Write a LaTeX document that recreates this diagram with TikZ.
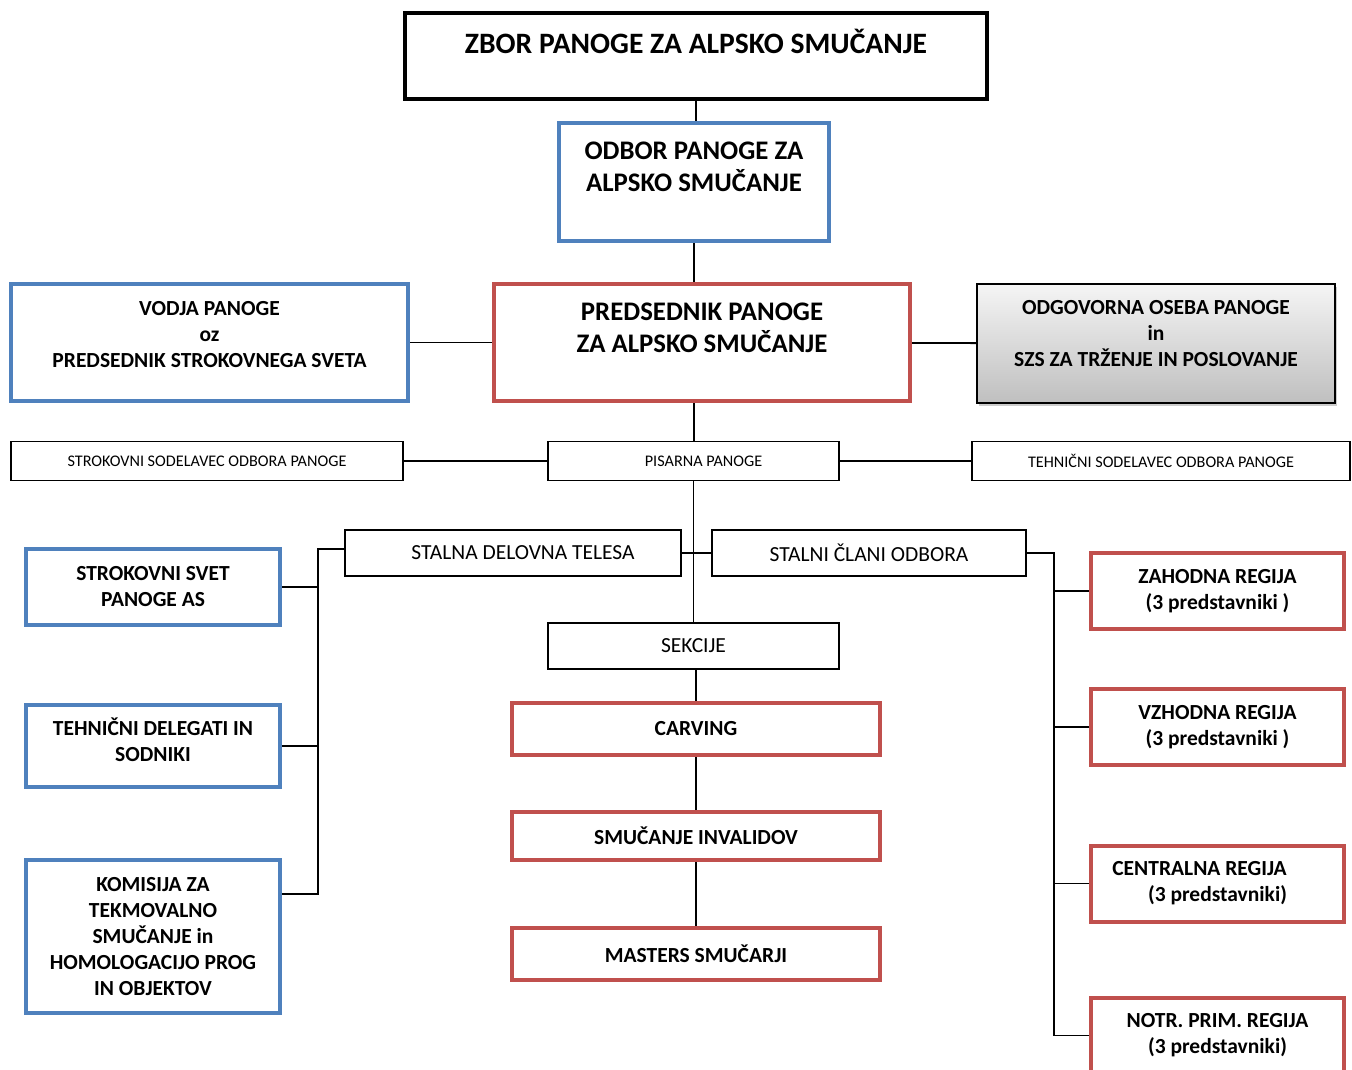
\documentclass[tikz,border=0pt]{standalone}
\usepackage{fontspec}
\setmainfont{Carlito}
\usepackage{tikz}
\usetikzlibrary{positioning,shadows}
\definecolor{boardblue}{HTML}{4F81BD}
\definecolor{sectionred}{HTML}{C0504D}
\newcommand{\zborfont}{\fontsize{29.6}{35}\selectfont\bfseries}
\newcommand{\headfont}{\fontsize{26.8}{32}\selectfont\bfseries}
\newcommand{\unitfont}{\fontsize{21.5}{26}\selectfont\bfseries}
\newcommand{\bodyfont}{\fontsize{21.5}{26}\selectfont}
\newcommand{\officefont}{\fontsize{16.2}{19}\selectfont}
\newcommand{\lowpad}[1]{\rule[-#1]{0pt}{#1}}
\tikzstyle{assembly}=[rectangle, draw=black, line width=4pt, align=center, font=\zborfont, minimum width=582pt, minimum height=86pt]
\tikzstyle{bluebox}=[rectangle, draw=boardblue, line width=4pt, align=center, font=\unitfont]
\tikzstyle{redbox}=[rectangle, draw=sectionred, line width=4pt, align=center, font=\unitfont]
\tikzstyle{thinbox}=[rectangle, draw=black, line width=1.6pt, align=center, font=\bodyfont]
\tikzstyle{office}=[thinbox, font=\officefont, minimum height=39pt]
\tikzstyle{greybox}=[rectangle, draw=black, line width=1.6pt, top color=gray!8, bottom color=gray!50, drop shadow={shadow xshift=2pt, shadow yshift=-3pt, opacity=0.4}, align=center, font=\unitfont]
\tikzset{link/.style={draw=black, line width=1.8pt}}
\tikzset{council/.style={minimum width=254pt}, region/.style={minimum width=253pt, minimum height=76pt}, sectionbox/.style={minimum width=368pt}}

\begin{document}
\begin{tikzpicture}[x=1pt, y=-1pt]
    \useasboundingbox (0,0) rectangle (1352,1069);

    \node(zbor)[assembly] at (696,56) {ZBOR PANOGE ZA ALPSKO SMUČANJE\lowpad{30pt}};
    \node(odbor)[bluebox, font=\headfont, minimum width=270pt, minimum height=118pt] at (694,182) {ODBOR PANOGE ZA\\ALPSKO SMUČANJE\lowpad{30pt}};
    \node(predsednik)[redbox, font=\headfont, minimum width=416pt, minimum height=117pt] at (702,342.5) {PREDSEDNIK PANOGE\\ZA ALPSKO SMUČANJE\lowpad{29pt}};
    \node(vodja)[bluebox, minimum width=397pt, minimum height=117pt] at (209.5,342.5) {VODJA PANOGE\\oz\\PREDSEDNIK STROKOVNEGA SVETA\lowpad{17pt}};
    \node(odgovorna)[greybox, minimum width=358pt, minimum height=119pt] at (1156,343.5) {ODGOVORNA OSEBA PANOGE\\in\\SZS ZA TRŽENJE IN POSLOVANJE\lowpad{20pt}};

    \node(sodelavec)[office, minimum width=392pt] at (207,461) {STROKOVNI SODELAVEC ODBORA PANOGE};
    \node(pisarna)[office, minimum width=291pt] at (693.5,461) {\mbox{\hspace{20pt}PISARNA PANOGE}};
    \node(tehnicni)[office, minimum width=378pt] at (1161,461) {TEHNIČNI SODELAVEC ODBORA PANOGE};

    \node(telesa)[thinbox, minimum width=336pt, minimum height=46pt] at (513,553) {\mbox{\hspace{20pt}STALNA DELOVNA TELESA}};
    \node(clani)[thinbox, minimum width=314pt, minimum height=46pt] at (869,553) {STALNI ČLANI ODBORA};
    \node(sekcije)[thinbox, minimum width=291pt, minimum height=46pt] at (693.5,646) {SEKCIJE};

    \node(carving)[redbox, sectionbox, minimum height=52pt] at (696,729) {CARVING};
    \node(invalidi)[redbox, sectionbox, minimum height=48pt, below=53pt of carving] {SMUČANJE INVALIDOV};
    \node(masters)[redbox, sectionbox, minimum height=52pt, below=64pt of invalidi] {MASTERS SMUČARJI};

    \node(svet)[bluebox, council, minimum height=76pt] at (153,587) {STROKOVNI SVET\\PANOGE AS};
    \node(delegati)[bluebox, council, minimum height=82pt] at (153,746) {TEHNIČNI DELEGATI IN\\SODNIKI\lowpad{12pt}};
    \node(komisija)[bluebox, council, minimum height=153pt] at (153,936.5) {KOMISIJA ZA\\TEKMOVALNO\\SMUČANJE in\\HOMOLOGACIJO PROG\\IN OBJEKTOV};

    \coordinate (lbus) at (318,0);
    \coordinate (rbus) at (1054,0);
    \coordinate (telesatap) at ([yshift=4pt]telesa.west);
    \coordinate (komisijatap) at ([yshift=-36pt]komisija.north east);

    \foreach \reg/\ypos/\txt in {zahodna/591/{ZAHODNA REGIJA\\(3 predstavniki )}, vzhodna/727/{VZHODNA REGIJA\\(3 predstavniki )}, centralna/883.5/{\mbox{CENTRALNA REGIJA\hspace{36pt}}\\(3 predstavniki)}, notranjska/1035.5/{NOTR. PRIM. REGIJA\\(3 predstavniki)}}{
        \node(\reg)[redbox, region] at (1217.5,\ypos) {\txt};
        \draw[link] (\reg.west) -- (\reg.west -| rbus);
    };

    \draw[link] (zbor.south) -- (zbor.south |- odbor.north);
    \draw[link] (odbor.south) -- (odbor.south |- predsednik.north);
    \draw[link] (vodja) -- (predsednik);
    \draw[link] (predsednik) -- (odgovorna);
    \draw[link] (odbor.south |- predsednik.south) -- (odbor.south |- pisarna.north);
    \draw[link] (sodelavec) -- (pisarna);
    \draw[link] (pisarna) -- (tehnicni);
    \draw[link] (pisarna.south) -- (pisarna.south |- sekcije.north);
    \draw[link] (telesa) -- (clani);
    \draw[link] (carving.north |- sekcije.south) -- (carving.north);
    \draw[link] (carving) -- (invalidi);
    \draw[link] (invalidi) -- (masters);

    \draw[link] (telesatap) -- (telesatap -| lbus) -- (komisijatap -| lbus) -- (komisijatap);
    \draw[link] (svet.east) -- (svet.east -| lbus);
    \draw[link] (delegati.east) -- (delegati.east -| lbus);
    \draw[link] (clani.east) -- (clani.east -| rbus) -- (notranjska.west -| rbus);

\end{tikzpicture}
\end{document}
